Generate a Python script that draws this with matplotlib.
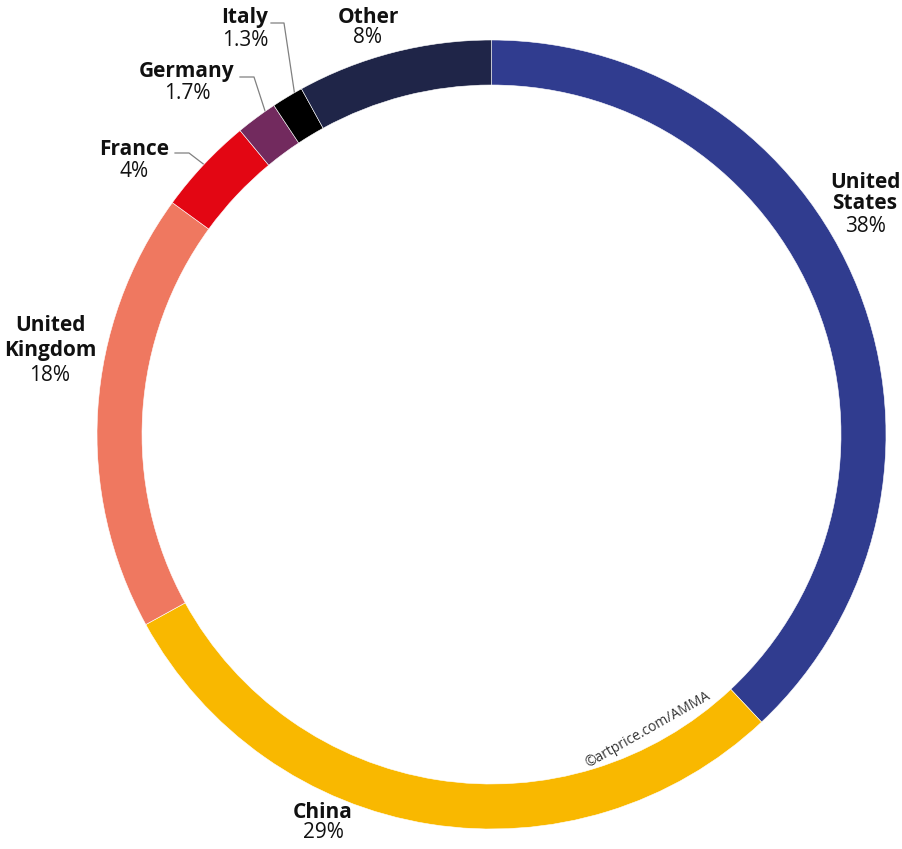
import numpy as np
import matplotlib.pyplot as plt

# share of the global art auction market by country
countries = ["United States", "China", "United Kingdom", "France", "Germany", "Italy", "Other"]
shares = [38, 29, 18, 4, 1.7, 1.3, 8]
pct_labels = ["38%", "29%", "18%", "4%", "1.7%", "1.3%", "8%"]
colors = ["#303c8f", "#f9b800", "#ef7860", "#e30613", "#722a5e", "#000000", "#1f2548"]

W, H = 902, 849
plt.rcParams['font.family'] = ['Open Sans', 'DejaVu Sans']

fig = plt.figure(figsize=(W / 100, H / 100), dpi=100)
ax = fig.add_axes([0, 0, 1, 1])

cx, cy = 491.5, H - 434.5
radius = 394.5
ring = 45

wedges, _ = ax.pie(shares, colors=colors, startangle=90, counterclock=False,
                   radius=radius, center=(cx, cy), frame=True,
                   wedgeprops=dict(width=ring, edgecolor='white', linewidth=0.4))
ax.set_xlim(0, W)
ax.set_ylim(0, H)
ax.set_aspect('equal')
ax.axis('off')

FS = 15


def label(x, y, name, pct, gap=22):
    # pixel coordinates measured from the top-left corner
    ax.text(x, H - y, name, ha='center', va='center', fontsize=FS,
            fontweight='bold', color='#111111')
    if pct:
        ax.text(x, H - (y + gap), pct, ha='center', va='center',
                fontsize=FS, color='#111111')


label(865, 182, "United", "")
label(865, 203, "States", pct_labels[0], gap=23)
label(323, 813, "China", pct_labels[1], gap=20)
label(50, 325, "United", "")
label(50, 350, "Kingdom", pct_labels[2], gap=25)
label(134, 149, "France", pct_labels[3])
label(187, 71, "Germany", pct_labels[4])
label(245, 17, "Italy", pct_labels[5], gap=23)
label(368, 17, "Other", pct_labels[6], gap=20)


def leader(wedge, start, knee, frac=0.5):
    # elbow line from the label to the outer edge of its slice
    ang = np.deg2rad(wedge.theta1 + frac * (wedge.theta2 - wedge.theta1))
    ex = cx + radius * np.cos(ang)
    ey = cy + radius * np.sin(ang)
    ax.plot([start[0], knee[0], ex], [H - start[1], H - knee[1], ey],
            color='#808080', linewidth=0.9, zorder=0)


leader(wedges[3], (175, 153), (189, 153))
leader(wedges[4], (240, 77), (254, 77), frac=0.25)
leader(wedges[5], (271, 23), (284, 23), frac=0.25)

ax.text(648, H - 730, "©artprice.com/AMMA", ha='center', va='center',
        rotation=29.5, fontsize=10, color='#333333')

fig.savefig("out.png", dpi=100)
